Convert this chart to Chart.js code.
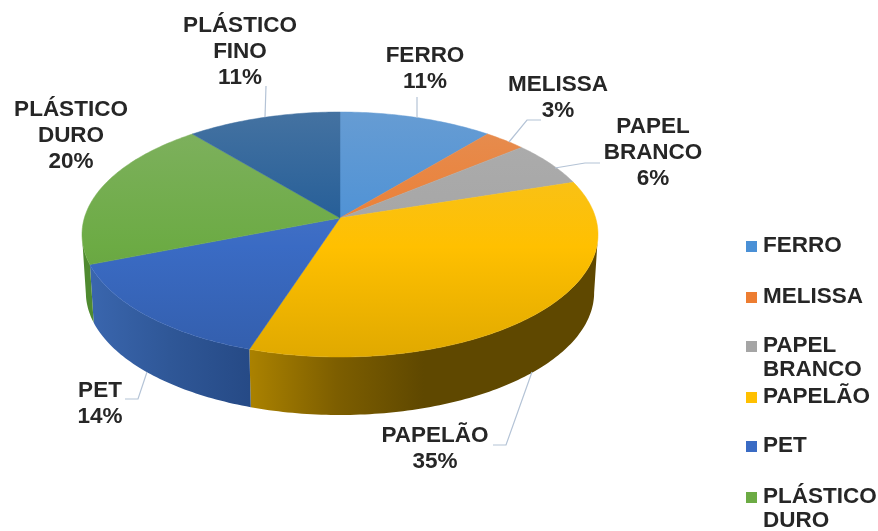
<!DOCTYPE html>
<html>
<head>
<meta charset="utf-8">
<style>
  html, body { margin: 0; padding: 0; background: #fff; overflow: hidden; }
  #chart { display: block; }
</style>
<script src="https://cdn.jsdelivr.net/npm/chart.js@4"></script>
</head>
<body>
<canvas id="chart" width="878" height="531"></canvas>
<script>
// Chart values
const categories = ['FERRO', 'MELISSA', 'PAPEL BRANCO', 'PAPELÃO', 'PET', 'PLÁSTICO DURO', 'PLÁSTICO FINO'];
const shares = [11, 3, 6, 35, 14, 20, 11];

// Slice colours
const faceColors = ['#4a90d6', '#ed7d31', '#a5a5a5', '#ffc000', '#3a6bc4', '#6cab44', '#1f5a96'];
const wallStops = [
  ['#3b6f9f', '#3b6f9f'],
  ['#a0521c', '#a0521c'],
  ['#6e6e6e', '#6e6e6e'],
  ['#ab8200', '#7d5e00', '#5f4800', '#5f4800', '#5f4800'],
  ['#3a66ae', '#2f5797', '#264a86'],
  ['#4f8a30', '#4f8a30'],
  ['#174066', '#174066']
];

// Label layout: line breaks and where each text block sits
const labelLines = [['FERRO'], ['MELISSA'], ['PAPEL', 'BRANCO'], ['PAPELÃO'], ['PET'], ['PLÁSTICO', 'DURO'], ['PLÁSTICO', 'FINO']];
const labelCenterX = [425, 558, 653, 435, 100, 71, 240];
const labelTopY = [56, 85, 127, 436, 391, 110, 26];
const leaderPaths = [
  [[417, 97], [417, 118]],
  [[541, 120], [527, 120], [509, 142]],
  [[600, 163], [585, 163], [555, 168]],
  [[493, 445], [506, 445], [532, 372]],
  [[125, 399], [138, 399], [147, 372]],
  [],
  [[266, 86], [265, 117]]
];
const legendRowY = [246, 297, 346, 397, 446, 497];

// Perspective of the tilted pie. The library lays out a flat circle and its
// arc angles are then projected onto an ellipse, with the apex pushed back.
const TILT_CENTER_Y = 234.5;
const TILT_RADIUS_Y = 122.5;
const APEX_SHIFT = -16.5;
const WALL_DEPTH = 58;
const WALL_SHRINK = 0.985;
const FONT = 'bold 22.5px "Liberation Sans", Arial, sans-serif';
const LINE_HEIGHT = 26;
const TEXT_COLOR = '#262626';

function mix(hex, target, amount) {
  const channels = [1, 3, 5].map(i => parseInt(hex.substr(i, 2), 16));
  const out = channels.map(c => Math.round(c + (target - c) * amount));
  return `rgb(${out[0]}, ${out[1]}, ${out[2]})`;
}

// Face shading runs top to bottom, lighter at the back of the pie
function faceGradient(context) {
  const base = faceColors[context.dataIndex];
  const top = TILT_CENTER_Y - TILT_RADIUS_Y;
  const bottom = TILT_CENTER_Y + TILT_RADIUS_Y;
  const gradient = context.chart.ctx.createLinearGradient(0, top, 0, bottom);
  gradient.addColorStop(0, mix(base, 200, 0.22));
  gradient.addColorStop(0.55, base);
  gradient.addColorStop(1, mix(base, 0, 0.12));
  return gradient;
}

// Rim position of a canvas angle, relative to the ellipse centre
function projectRim(angle, rx) {
  const shift = APEX_SHIFT / TILT_RADIUS_Y;
  const u = Math.cos(angle);
  const v = Math.sin(angle);
  const denom = 1 + shift * v;
  const a = rx * Math.sqrt(1 - shift * shift);
  return { x: a * u / denom, y: (TILT_RADIUS_Y * v + APEX_SHIFT) / denom };
}

function rimPoints(arc, rx) {
  const steps = Math.max(2, Math.ceil((arc.endAngle - arc.startAngle) * 60));
  const points = [];
  for (let s = 0; s <= steps; s++) {
    points.push(projectRim(arc.startAngle + (arc.endAngle - arc.startAngle) * s / steps, rx));
  }
  return points;
}

const tiltPlugin = {
  id: 'tilt',
  beforeDatasetsDraw(chart) {
    const ctx = chart.ctx;
    const arcs = chart.getDatasetMeta(0).data;
    const cx = arcs[0].x;
    const rx = arcs[0].outerRadius;

    // Side walls only show along the front half of the rim
    arcs.forEach((arc, i) => {
      const front = rimPoints(arc, rx).filter(p => p.y >= 0);
      if (front.length < 2) return;
      const xs = front.map(p => p.x);
      const gradient = ctx.createLinearGradient(cx + Math.min(...xs), 0, cx + Math.max(...xs), 0);
      const stops = wallStops[i];
      stops.forEach((c, k) => gradient.addColorStop(k / (stops.length - 1), c));
      ctx.beginPath();
      front.forEach((p, k) => {
        if (k) ctx.lineTo(cx + p.x, TILT_CENTER_Y + p.y);
        else ctx.moveTo(cx + p.x, TILT_CENTER_Y + p.y);
      });
      front.slice().reverse().forEach(p => {
        ctx.lineTo(cx + p.x * WALL_SHRINK, TILT_CENTER_Y + p.y + WALL_DEPTH);
      });
      ctx.closePath();
      ctx.fillStyle = gradient;
      ctx.fill();
    });

    // Top faces, from the arc angles and colours the library resolved
    arcs.forEach(arc => {
      const apexY = TILT_CENTER_Y + APEX_SHIFT;
      ctx.beginPath();
      ctx.moveTo(cx, apexY);
      rimPoints(arc, rx).forEach(p => ctx.lineTo(cx + p.x, TILT_CENTER_Y + p.y));
      ctx.closePath();
      ctx.fillStyle = arc.options.backgroundColor;
      ctx.strokeStyle = arc.options.backgroundColor;
      ctx.lineWidth = 0.5;
      ctx.fill();
      ctx.stroke();
    });

    // The flat circle itself is never painted
    return false;
  },
  afterDraw(chart) {
    const ctx = chart.ctx;
    ctx.save();

    ctx.strokeStyle = '#b4c3d6';
    ctx.lineWidth = 1.2;
    leaderPaths.forEach(path => {
      if (!path.length) return;
      ctx.beginPath();
      path.forEach(([x, y], k) => (k ? ctx.lineTo(x, y) : ctx.moveTo(x, y)));
      ctx.stroke();
    });

    ctx.font = FONT;
    ctx.fillStyle = TEXT_COLOR;
    ctx.textBaseline = 'middle';
    ctx.textAlign = 'center';
    categories.forEach((name, i) => {
      const lines = labelLines[i].concat(shares[i] + '%');
      lines.forEach((line, k) => {
        ctx.fillText(line, labelCenterX[i], labelTopY[i] + k * LINE_HEIGHT);
      });
    });

    // Legend column on the right, the last entry runs off the page
    ctx.textAlign = 'left';
    legendRowY.forEach((y, i) => {
      ctx.fillStyle = faceColors[i];
      ctx.fillRect(746, y - 5, 11, 11);
      ctx.fillStyle = TEXT_COLOR;
      labelLines[i].forEach((line, k) => {
        ctx.fillText(line, 763, y + k * 24);
      });
    });

    ctx.restore();
  }
};

new Chart(document.getElementById('chart'), {
  type: 'pie',
  data: {
    labels: categories,
    datasets: [{
      data: shares,
      backgroundColor: faceGradient,
      borderWidth: 0,
      hoverOffset: 0
    }]
  },
  options: {
    responsive: false,
    animation: false,
    events: [],
    layout: { padding: { left: 82, right: 280, top: 0, bottom: 15 } },
    plugins: {
      legend: { display: false },
      tooltip: { enabled: false }
    }
  },
  plugins: [tiltPlugin]
});
</script>
</body>
</html>
